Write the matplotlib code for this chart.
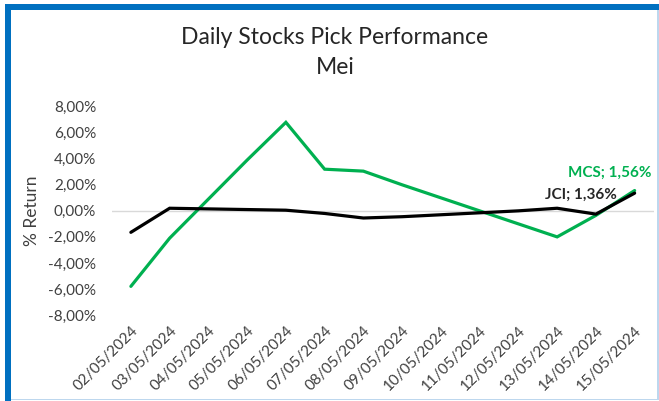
import matplotlib
matplotlib.use("Agg")
import matplotlib.pyplot as plt
from matplotlib.patches import Rectangle
from matplotlib.ticker import FuncFormatter

dates = ["02/05/2024", "03/05/2024", "04/05/2024", "05/05/2024", "06/05/2024",
         "07/05/2024", "08/05/2024", "09/05/2024", "10/05/2024", "11/05/2024",
         "12/05/2024", "13/05/2024", "14/05/2024", "15/05/2024"]
mcs = [-5.8, -2.1, 0.9, 3.9, 6.8, 3.2, 3.05, 2.0, 1.0, 0.0, -1.0, -2.0, -0.35, 1.56]
jci = [-1.65, 0.2, 0.15, 0.1, 0.05, -0.2, -0.55, -0.45, -0.3, -0.15, 0.0, 0.2, -0.25, 1.36]
yticks = [-8, -6, -4, -2, 0, 2, 4, 6, 8]

plt.rcParams['font.family'] = ['Lato', 'DejaVu Sans']

W, H = 659, 401
fig = plt.figure(figsize=(W / 100, H / 100), dpi=100)
fig.patch.set_facecolor('white')

def px(x0, y0, x1, y1):
    return (x0 / W, 1 - y1 / H, (x1 - x0) / W, (y1 - y0) / H)

# frame
for (x0, y0, x1, y1, c) in [(5, 4, 659, 10, '#0070C0'), (5, 4, 11, 401, '#0070C0'),
                            (11, 398.5, 659, 400, '#BDD7EE'), (657, 10, 658.5, 400, '#BDD7EE')]:
    l, b, w, h = px(x0, y0, x1, y1)
    fig.patches.append(Rectangle((l, b), w, h, transform=fig.transFigure,
                                 facecolor=c, edgecolor='none', zorder=5))

l, b, w, h = px(111.5, 106.7, 654, 315)
ax = fig.add_axes([l, b, w, h])
x = list(range(len(dates)))
ax.plot(x, mcs, color='#00B050', lw=2.3, solid_capstyle='round', solid_joinstyle='miter', zorder=3)
ax.plot(x, jci, color='#000000', lw=2.3, solid_capstyle='round', solid_joinstyle='miter', zorder=4)
ax.axhline(0, color='#D9D9D9', lw=1, zorder=1)

ax.set_xlim(-0.5, len(dates) - 0.5)
ax.set_ylim(-8, 8)
ax.set_yticks(yticks)
ax.yaxis.set_major_formatter(FuncFormatter(lambda v, p: f"{v:.2f}".replace('.', ',') + '%'))
ax.set_xticks(x)
ax.set_xticklabels(dates, rotation=45, ha='right', rotation_mode='anchor')
ax.tick_params(axis='both', length=0, labelsize=11, colors='#404040')
ax.tick_params(axis='y', pad=11)
ax.tick_params(axis='x', pad=6)
for s in ax.spines.values():
    s.set_visible(False)
ax.set_ylabel('% Return', fontsize=12.5, color='#404040', labelpad=6)

ax.annotate(f"MCS; {mcs[-1]:.2f}".replace('.', ',') + '%', xy=(x[-1], mcs[-1]),
            xytext=(12, 12.5), textcoords='offset points', ha='right', va='center',
            color='#00B050', fontsize=11, fontweight='bold')
ax.annotate(f"JCI; {jci[-1]:.2f}".replace('.', ',') + '%', xy=(x[-1], jci[-1]),
            xytext=(-13, -1.5), textcoords='offset points', ha='right', va='center',
            color='#262626', fontsize=11, fontweight='bold')

fig.text(335 / W, 1 - 37 / H, 'Daily Stocks Pick Performance', ha='center', va='center',
         fontsize=16.5, color='#262626')
fig.text(335 / W, 1 - 68 / H, 'Mei', ha='center', va='center', fontsize=16.5, color='#262626')

fig.savefig('out.png', dpi=100)
